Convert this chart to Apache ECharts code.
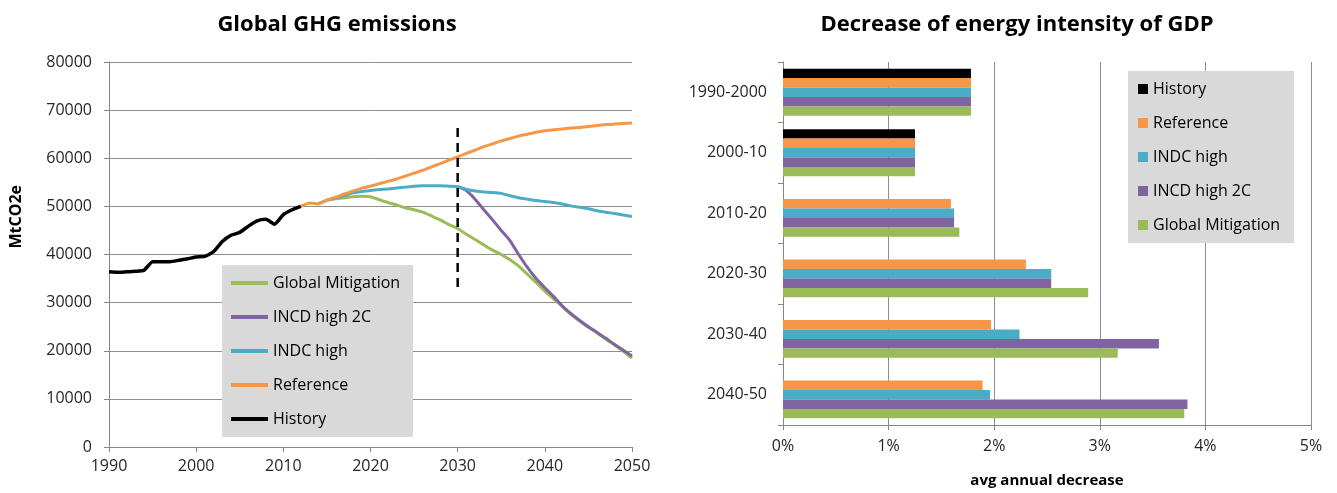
<!DOCTYPE html>
<html>
<head>
<meta charset="utf-8">
<title>Global GHG emissions and energy intensity of GDP</title>
<script src="https://cdn.jsdelivr.net/npm/echarts@6/dist/echarts.min.js"></script>
<style>
  html, body { margin: 0; padding: 0; background: #ffffff; }
  #chart { width: 1337px; height: 493px; }
</style>
</head>
<body>
<div id="chart"></div>
<script>
// ---- Global GHG emissions (MtCO2e), one value per year ----
const historyStart = 1990;
const historyValues = [36400, 36300, 36400, 36500, 36700, 38500, 38500, 38500, 38800, 39100,
  39500, 39600, 40600, 42700, 44000, 44600, 45900, 47000, 47300, 46300,
  48300, 49300, 50000];

const referenceStart = 2012;
const referenceValues = [50000, 50700, 50500, 51300, 51900, 52600, 53200, 53800, 54200, 54700,
  55200, 55700, 56300, 56900, 57500, 58200, 58900, 59600, 60300, 61000,
  61700, 62400, 63000, 63600, 64100, 64600, 65000, 65400, 65700, 65900,
  66100, 66300, 66400, 66600, 66800, 67000, 67100, 67200, 67300];

const indcHighStart = 2014;
const indcHighValues = [50500, 51300, 51800, 52300, 52800, 53100, 53300, 53500, 53600, 53800,
  54000, 54200, 54300, 54300, 54300, 54200, 54100, 53500, 53200, 53000,
  52900, 52700, 52200, 51800, 51500, 51200, 51000, 50800, 50500, 50100,
  49800, 49500, 49100, 48800, 48500, 48200, 47900];

const indcHigh2CStart = 2030;
const indcHigh2CValues = [54100, 53300, 51500, 49300, 47200, 45000, 42900, 40000, 37300, 35000,
  33100, 31300, 29300, 27700, 26300, 25000, 23800, 22600, 21300, 20100, 18900];

const mitigationStart = 2014;
const mitigationValues = [50500, 51300, 51600, 51800, 52000, 52100, 52000, 51400, 50800, 50300,
  49700, 49300, 48800, 48000, 47200, 46200, 45400, 44200, 43100, 42000,
  40900, 40000, 38900, 37600, 35900, 34200, 32400, 30800, 29200, 27500,
  26200, 24900, 23700, 22400, 21200, 19900, 18500];

// dashed marker at the 2030 target year: [year, value] end points
const cutoffLine = [[2030, 66300], [2030, 32600]];

// ---- Decrease of energy intensity of GDP (avg annual decrease, %) ----
const periods = ['1990-2000', '2000-10', '2010-20', '2020-30', '2030-40', '2040-50'];
const barHistory = [1.78, 1.25, null, null, null, null];
const barReference = [1.78, 1.25, 1.59, 2.30, 1.97, 1.89];
const barIndcHigh = [1.78, 1.25, 1.62, 2.54, 2.24, 1.96];
const barIndcHigh2C = [1.78, 1.25, 1.62, 2.54, 3.56, 3.83];
const barMitigation = [1.78, 1.25, 1.67, 2.89, 3.17, 3.80];

const colors = {
  'Global Mitigation': '#9BBB59',
  'INCD high 2C': '#8064A2',
  'INDC high': '#4BACC6',
  'Reference': '#F79646',
  'History': '#000000'
};

const FONT = '"Open Sans", "Noto Sans", sans-serif';
const axisGray = '#868686';
const gridGray = '#8e8e8e';
const labelColor = '#262626';

function toPairs(start, values) {
  return values.map((v, i) => [start + i, v]);
}

function lineSeries(name, start, values, width) {
  return {
    name: name,
    type: 'line',
    xAxisIndex: 0,
    yAxisIndex: 0,
    data: toPairs(start, values),
    symbol: 'none',
    smooth: 0.15,
    lineStyle: { color: colors[name], width: width },
    itemStyle: { color: colors[name] },
    emphasis: { disabled: true },
    animation: false
  };
}

function barSeries(name, values) {
  return {
    name: name,
    type: 'bar',
    xAxisIndex: 1,
    yAxisIndex: 1,
    data: values,
    barGap: '0%',
    barCategoryGap: '22%',
    itemStyle: { color: colors[name] },
    emphasis: { disabled: true },
    animation: false
  };
}

const chart = echarts.init(document.getElementById('chart'), null, { renderer: 'canvas' });

const option = {
  backgroundColor: '#ffffff',
  textStyle: { fontFamily: FONT },
  title: [
    {
      text: 'Global GHG emissions',
      left: 332, top: 9, textAlign: 'center',
      textStyle: { fontFamily: FONT, fontSize: 22, fontWeight: 'bold', color: '#000' }
    },
    {
      text: 'Decrease of energy intensity of GDP',
      left: 1012, top: 9, textAlign: 'center',
      textStyle: { fontFamily: FONT, fontSize: 22, fontWeight: 'bold', color: '#000' }
    }
  ],
  graphic: [
    {
      type: 'text',
      left: 8, top: 185,
      rotation: Math.PI / 2,
      style: {
        text: 'MtCO2e',
        font: 'bold 16px ' + FONT,
        fill: '#000'
      }
    }
  ],
  legend: [
    {
      data: ['Global Mitigation', 'INCD high 2C', 'INDC high', 'Reference', 'History'],
      orient: 'vertical',
      left: 222, top: 265,
      backgroundColor: '#D9D9D9',
      padding: [10, 5, 10, 9],
      itemGap: 18,
      itemWidth: 37,
      itemHeight: 4,
      icon: 'rect',
      selectedMode: false,
      textStyle: { fontFamily: FONT, fontSize: 16, color: '#000', lineHeight: 14, width: 135 }
    },
    {
      data: ['History', 'Reference', 'INDC high', 'INCD high 2C', 'Global Mitigation'],
      orient: 'vertical',
      left: 1128, top: 71,
      backgroundColor: '#D9D9D9',
      padding: [10, 6, 10, 10],
      itemGap: 18,
      itemWidth: 10,
      itemHeight: 10,
      icon: 'rect',
      selectedMode: false,
      textStyle: { fontFamily: FONT, fontSize: 16, color: '#000', lineHeight: 14, width: 135 }
    }
  ],
  grid: [
    { left: 109, right: 705, top: 62, bottom: 46, containLabel: false },
    { left: 783, right: 26, top: 62, bottom: 65, containLabel: false }
  ],
  xAxis: [
    {
      type: 'value', gridIndex: 0,
      min: 1990, max: 2050, interval: 10,
      axisLine: { show: true, lineStyle: { color: axisGray } },
      axisTick: { show: true, length: 5, lineStyle: { color: axisGray } },
      splitLine: { show: false },
      axisLabel: { color: labelColor, fontSize: 16, fontFamily: FONT, margin: 11, formatter: v => String(v) }
    },
    {
      type: 'value', gridIndex: 1,
      min: 0, max: 5, interval: 1,
      name: 'avg annual decrease',
      nameLocation: 'middle',
      nameGap: 48,
      nameTextStyle: { color: '#000', fontSize: 15, fontWeight: 'bold', fontFamily: FONT },
      axisLine: { show: true, lineStyle: { color: axisGray } },
      axisTick: { show: true, length: 5, lineStyle: { color: axisGray } },
      splitLine: { show: true, lineStyle: { color: gridGray, width: 1 } },
      axisLabel: { color: labelColor, fontSize: 16, fontFamily: FONT, margin: 13, formatter: v => v + '%' }
    }
  ],
  yAxis: [
    {
      type: 'value', gridIndex: 0,
      min: 0, max: 80000, interval: 10000,
      axisLine: { show: true, lineStyle: { color: axisGray } },
      axisTick: { show: true, length: 5, lineStyle: { color: axisGray } },
      splitLine: { show: true, lineStyle: { color: gridGray, width: 1 } },
      axisLabel: { color: labelColor, fontSize: 16, fontFamily: FONT, margin: 17, formatter: v => String(v) }
    },
    {
      type: 'category', gridIndex: 1,
      data: periods,
      inverse: true,
      axisLine: { show: true, lineStyle: { color: axisGray } },
      axisTick: { show: true, length: 5, lineStyle: { color: axisGray } },
      splitLine: { show: false },
      axisLabel: { color: labelColor, fontSize: 16, fontFamily: FONT, margin: 16 }
    }
  ],
  series: [
    lineSeries('Global Mitigation', mitigationStart, mitigationValues, 3),
    lineSeries('INCD high 2C', indcHigh2CStart, indcHigh2CValues, 3),
    lineSeries('INDC high', indcHighStart, indcHighValues, 3),
    lineSeries('Reference', referenceStart, referenceValues, 3),
    lineSeries('History', historyStart, historyValues, 3.5),
    {
      name: 'cutoff',
      type: 'line',
      xAxisIndex: 0, yAxisIndex: 0,
      data: cutoffLine,
      symbol: 'none',
      lineStyle: { color: '#000', width: 2.5, type: [9, 6] },
      emphasis: { disabled: true },
      animation: false,
      z: 5
    },
    barSeries('History', barHistory),
    barSeries('Reference', barReference),
    barSeries('INDC high', barIndcHigh),
    barSeries('INCD high 2C', barIndcHigh2C),
    barSeries('Global Mitigation', barMitigation)
  ]
};

chart.setOption(option);
</script>
</body>
</html>
